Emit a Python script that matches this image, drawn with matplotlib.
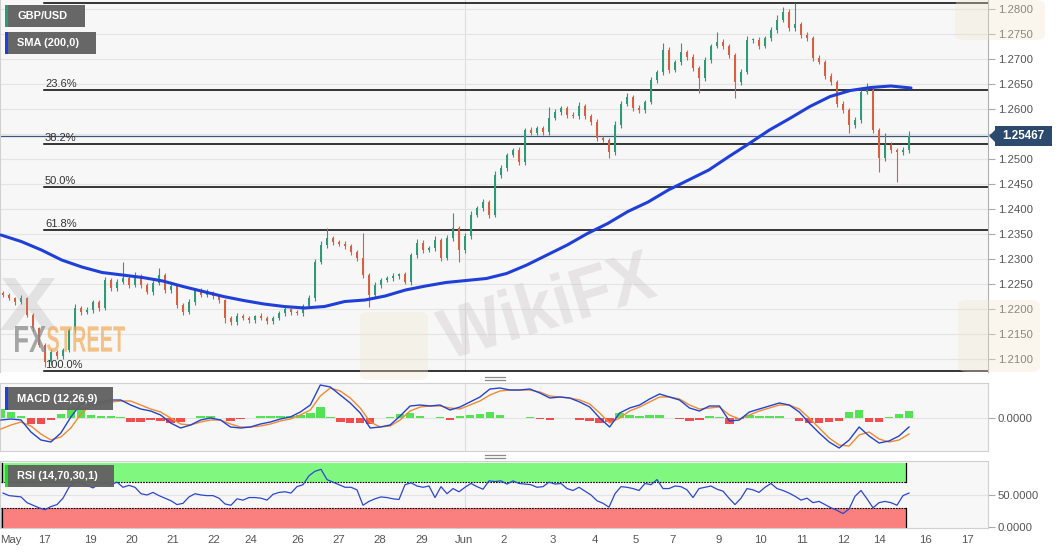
import numpy as np
import matplotlib
matplotlib.use('Agg')
import matplotlib.pyplot as plt
from matplotlib.patches import Rectangle, Polygon, PathPatch, FancyBboxPatch
from matplotlib.lines import Line2D
from matplotlib.textpath import TextPath
from matplotlib.font_manager import FontProperties
from matplotlib.transforms import Affine2D

plt.rcParams['font.family'] = ['Liberation Sans', 'DejaVu Sans']

# ---------------- data ----------------
first_open = 1.2232
closes = [
    1.2228, 1.2222, 1.2214, 1.2222, 1.2188, 1.2162, 1.2128, 1.2094, 1.2114, 1.2106,
    1.2118, 1.2158, 1.2202, 1.2194, 1.2198, 1.2214, 1.2202, 1.2258, 1.2242, 1.2254,
    1.2262, 1.2248, 1.2266, 1.2248, 1.2234, 1.2252, 1.2268, 1.2238, 1.2246, 1.2208,
    1.2194, 1.2214, 1.2238, 1.2228, 1.2234, 1.2226, 1.2218, 1.2182, 1.2174, 1.2186,
    1.2182, 1.2178, 1.2186, 1.2182, 1.2176, 1.2182, 1.2192, 1.2200, 1.2194, 1.2192,
    1.2206, 1.2222, 1.2294, 1.2328,
    1.2342, 1.2334, 1.2330, 1.2326, 1.2314, 1.2302, 1.2268, 1.2228, 1.2248, 1.2258,
    1.2262, 1.2266, 1.2270, 1.2254, 1.2308, 1.2332, 1.2318, 1.2322, 1.2338, 1.2302,
    1.2342, 1.2362, 1.2318, 1.2346, 1.2388, 1.2402, 1.2414, 1.2388, 1.2468, 1.2482,
    1.2508, 1.2518, 1.2494, 1.2558, 1.2552, 1.2562, 1.2554, 1.2582, 1.2594, 1.2602,
    1.2588, 1.2586, 1.2606, 1.2586, 1.2574, 1.2542, 1.2538, 1.2514, 1.2568, 1.2610,
    1.2624, 1.2602, 1.2598, 1.2614, 1.2658, 1.2674, 1.2718, 1.2678, 1.2694, 1.2714,
    1.2704, 1.2682, 1.2662, 1.2698, 1.2726, 1.2734, 1.2726, 1.2708, 1.2654, 1.2674,
    1.2738, 1.2738, 1.2726, 1.2742, 1.2758, 1.2778, 1.2794, 1.2762, 1.2770, 1.2748,
    1.2742, 1.2702, 1.2694, 1.2666, 1.2654, 1.2610, 1.2598, 1.2568, 1.2578, 1.2634,
    1.2638, 1.2558, 1.2502, 1.2528, 1.2518, 1.2514, 1.2518, 1.25467,
]
wick_up = [
    4, 5, 3, 6, 3, 4, 3, 4, 6, 5,
    4, 5, 8, 4, 6, 5, 4, 6, 5, 7,
    32, 5, 8, 4, 5, 6, 14, 4, 6, 3,
    4, 6, 5, 4, 6, 3, 4, 3, 5, 6,
    4, 5, 3, 6, 4, 5, 4, 6, 3, 4,
    5, 6, 6, 8, 20, 5, 4, 6, 4, 5,
    50, 4, 6, 5, 4, 6, 3, 5, 4, 8,
    6, 4, 8, 5, 6, 30, 4, 6, 8, 5,
    6, 4, 8, 6, 5, 4, 6, 5, 6, 5,
    4, 22, 6, 5, 4, 6, 8, 5, 4, 6,
    5, 4, 8, 6, 8, 5, 6, 4, 6, 5,
    14, 6, 5, 18, 5, 6, 4, 6, 5, 20,
    6, 5, 4, 6, 8, 5, 6, 5, 6, 10,
    10, 6, 42, 5, 6, 4, 6, 5, 6, 5,
    6, 5, 6, 4, 14, 6, 5, 24, 6, 5,
    6, 10,
]
wick_dn = [
    5, 4, 6, 4, 5, 6, 4, 10, 6, 5,
    6, 4, 5, 6, 4, 5, 6, 4, 6, 5,
    4, 6, 5, 6, 4, 5, 4, 6, 5, 6,
    5, 4, 6, 5, 4, 6, 5, 10, 6, 5,
    4, 6, 5, 4, 6, 5, 4, 5, 6, 4,
    5, 4, 5, 4, 5, 6, 4, 5, 6, 5,
    6, 24, 5, 6, 4, 5, 6, 4, 5, 6,
    5, 4, 6, 5, 4, 5, 24, 6, 5, 4,
    6, 5, 4, 6, 5, 4, 6, 5, 4, 5,
    6, 5, 4, 6, 5, 4, 6, 5, 6, 5,
    4, 12, 5, 6, 4, 5, 6, 5, 4, 6,
    5, 6, 4, 5, 6, 5, 30, 5, 6, 4,
    5, 6, 32, 5, 4, 6, 5, 4, 6, 5,
    4, 6, 5, 6, 5, 6, 4, 6, 5, 6,
    5, 16, 6, 5, 4, 6, 28, 5, 6, 60,
    5, 6,
]
sma200 = [
    1.2348, 1.2335, 1.2318, 1.2298, 1.2284, 1.2273, 1.2268, 1.2263, 1.2256, 1.2245,
    1.2235, 1.2225, 1.2217, 1.2210, 1.2205, 1.2202, 1.2205, 1.2215, 1.2218, 1.2226,
    1.2238, 1.2246, 1.2253, 1.2257, 1.2261, 1.2271, 1.2288, 1.2308, 1.2328, 1.2351,
    1.2371, 1.2395, 1.2414, 1.2438, 1.2458, 1.2478, 1.2505, 1.2531, 1.2558, 1.2581,
    1.2605, 1.2625, 1.2637, 1.2643, 1.2646, 1.2642,
]
macd_line = [
    -0.0002, -0.0001, -0.0002, -0.0014, -0.0022, -0.0024, -0.0015, 0.0001, 0.0014, 0.0016,
    0.0016, 0.0018, 0.0018, 0.0013, 0.0009, 0.0007, 0.0003, -0.0005, -0.0010, -0.0007,
    -0.0002, 0.0000, -0.0002, -0.0009, -0.0010, -0.0009, -0.0006, -0.0004, -0.0001, 0.0001,
    0.0006, 0.0013, 0.0033, 0.0031, 0.0023, 0.0015, 0.0005, -0.0010, -0.0009, -0.0007,
    0.0002, 0.0012, 0.0013, 0.0012, 0.0013, 0.0008, 0.0011, 0.0016, 0.0021, 0.0029,
    0.0030, 0.0028, 0.0028, 0.0029, 0.0025, 0.0020, 0.0021, 0.0020, 0.0016, 0.0011,
    0.0000, -0.0009, 0.0005, 0.0010, 0.0013, 0.0019, 0.0024, 0.0021, 0.0018, 0.0010,
    0.0007, 0.0012, 0.0012, -0.0003, -0.0002, 0.0006, 0.0009, 0.0012, 0.0015, 0.0013,
    0.0006, -0.0005, -0.0015, -0.0024, -0.0030, -0.0022, -0.0009, -0.0018, -0.0025, -0.0023,
    -0.0018, -0.0009,
]
signal_line = [
    -0.0011, -0.0007, -0.0004, -0.0008, -0.0016, -0.0022, -0.0019, -0.0010, 0.0004, 0.0013,
    0.0014, 0.0016, 0.0017, 0.0017, 0.0013, 0.0009, 0.0006, 0.0000, -0.0006, -0.0007,
    -0.0004, -0.0002, -0.0002, -0.0006, -0.0009, -0.0009, -0.0008, -0.0006, -0.0003, -0.0001,
    0.0003, 0.0008, 0.0022, 0.0030, 0.0027, 0.0020, 0.0010, -0.0004, -0.0009, -0.0008,
    -0.0002, 0.0007, 0.0011, 0.0012, 0.0012, 0.0010, 0.0009, 0.0013, 0.0017, 0.0023,
    0.0027, 0.0028, 0.0028, 0.0028, 0.0026, 0.0022, 0.0021, 0.0020, 0.0018, 0.0014,
    0.0005, -0.0005, 0.0000, 0.0007, 0.0011, 0.0016, 0.0021, 0.0021, 0.0019, 0.0013,
    0.0009, 0.0010, 0.0011, 0.0003, -0.0001, 0.0003, 0.0007, 0.0010, 0.0013, 0.0013,
    0.0009, 0.0000, -0.0010, -0.0020, -0.0027, -0.0028, -0.0017, -0.0014, -0.0021, -0.0024,
    -0.0022, -0.0016,
]
rsi = [
    53, 49, 48, 47, 38, 34, 30, 27, 32, 35,
    45, 62, 70, 69, 65, 61, 67, 68, 66, 70,
    62, 65, 62, 52, 50, 54, 49, 45, 41, 35,
    37, 47, 52, 50, 49, 49, 45, 36, 34, 44,
    42, 46, 46, 45, 42, 51, 54, 55, 53, 63,
    66, 80, 87, 90, 74, 70, 66, 62, 62, 58,
    34, 40, 44, 47, 46, 44, 43, 66, 69, 64,
    62, 64, 46, 63, 52, 60, 55, 62, 68, 63,
    59, 72, 71, 72, 67, 72, 68, 67, 66, 62,
    63, 70, 67, 68, 60, 57, 62, 56, 50, 41,
    37, 31, 52, 63, 62, 60, 57, 68, 66, 74,
    60, 60, 64, 63, 58, 46, 60, 62, 64, 59,
    56, 45, 35, 45, 60, 58, 54, 62, 68, 60,
    57, 53, 48, 42, 45, 38, 40, 35, 30, 26,
    21, 28, 48, 57, 44, 30, 38, 40, 38, 34,
    49, 53,
]
fib_high = 1.2812
fib_low = 1.2076
fib_levels = [0.0, 0.236, 0.382, 0.5, 0.618, 1.0]
fib_labels = ['0.0%', '23.6%', '38.2%', '50.0%', '61.8%', '100.0%']
last_price = 1.25467
price_ticks = [1.2100, 1.2150, 1.2200, 1.2250, 1.2300, 1.2350, 1.2400, 1.2450,
               1.2500, 1.2550, 1.2600, 1.2650, 1.2700, 1.2750, 1.2800]
date_labels = ['May', '17', '19', '20', '21', '22', '24', '26', '27', '28', '29',
               'Jun', '2', '3', '4', '5', '7', '9', '10', '11', '12', '14', '16', '17']
rsi_upper, rsi_lower = 70, 30

# ---------------- layout ----------------
W, H = 1060, 555
PLOT_W = 988          # px width of plot areas
BAR_STEP = 6          # px between candles
BAR_X0 = 2
date_pos = [10, 43, 89, 131, 172, 213, 250, 297, 338, 379, 421, 463, 503, 552,
            594, 635, 672, 718, 759, 801, 842, 878, 924, 966]
jun_x = 464
FACE = '#f7f7f7'
GRID = '#e4e4e4'

fig = plt.figure(figsize=(W / 100, H / 100), dpi=100)
fig.patch.set_facecolor('white')


def fy(y):
    return 1 - y / H


ax = fig.add_axes([0.0, fy(372), PLOT_W / W, 372 / H])
axm = fig.add_axes([0.0, fy(451), PLOT_W / W, 68 / H])
axr = fig.add_axes([0.0, fy(528), PLOT_W / W, 67 / H])

for a in (ax, axm, axr):
    a.set_facecolor(FACE)
    a.set_xlim(-1, PLOT_W - 1)
    for s in a.spines.values():
        s.set_color('#d0d0d0')
        s.set_linewidth(0.8)
    a.tick_params(axis='x', length=0)
    a.yaxis.tick_right()
    a.tick_params(axis='y', direction='out', length=5, color='#aaaaaa', width=0.8,
                  labelsize=8.2, labelcolor='#555555', pad=2)
    a.axvline(jun_x, color='#dddddd', lw=0.8, zorder=0.5)

# ---------- main panel ----------
n = len(closes)
x = np.arange(n) * BAR_STEP + BAR_X0
opens = np.array([first_open] + closes[:-1])
cl = np.array(closes)
hi = np.maximum(opens, cl) + np.array(wick_up) * 1e-4
lo = np.minimum(opens, cl) - np.array(wick_dn) * 1e-4
up = cl >= opens
cols = np.where(up, '#2e9a78', '#d8603f')

ax.set_ylim(1.2074, 1.2818)
ax.set_yticks(price_ticks)
# the label next to the last-price tag is hidden by the tag in the original
ax.set_yticklabels(['' if abs(p - last_price) < 0.0012 else f'{p:.4f}' for p in price_ticks])
ax.set_xticks([])
ax.grid(axis='y', color=GRID, lw=0.8, zorder=0)
ax.set_axisbelow(True)
ax.spines['top'].set_visible(False)
ax.spines['bottom'].set_visible(False)
ax.spines['right'].set_color('#b0b0b0')

ax.vlines(x, lo, hi, colors=cols, lw=0.8, zorder=3)
body_h = np.maximum(np.abs(cl - opens), 0.00012)
ax.bar(x, body_h, bottom=np.minimum(opens, cl), width=2.6, color=cols, lw=0, zorder=3)

sma_x = np.linspace(0, 910, len(sma200))
ax.plot(sma_x, sma200, color='#1f3fd8', lw=2.2, zorder=4, solid_capstyle='round')

for lvl, lab in zip(fib_levels, fib_labels):
    p = fib_high - lvl * (fib_high - fib_low)
    ax.plot([43, PLOT_W], [p, p], color='black', lw=1.1, zorder=2)
    ax.text(44, p + 0.0002, lab, fontsize=8, color='#333333', va='bottom', ha='left',
            zorder=5, clip_on=True)

ax.axhline(last_price, color='#3b5878', lw=0.9, zorder=2)

# ---------- MACD panel ----------
mx = np.linspace(0, 908, len(macd_line))
macd_a = np.array(macd_line)
sig_a = np.array(signal_line)
hist = macd_a - sig_a
axm.set_ylim(-0.0033, 0.0035)
axm.set_yticks([0.0])
axm.set_yticklabels(['0.0000'])
axm.set_xticks([])
axm.axhline(0, color=GRID, lw=0.8, zorder=0.5)
axm.bar(mx, hist, width=8.5, color=np.where(hist >= 0, '#44e044', '#f03c3c'), lw=0,
        alpha=0.9, zorder=2)
axm.plot(mx, sig_a, color='#f28a30', lw=1.0, zorder=3)
axm.plot(mx, macd_a, color='#2343d0', lw=1.0, zorder=4)

# ---------- RSI panel ----------
axr.set_ylim(-1.5, 103)
axr.set_yticks([0, 50])
axr.set_yticklabels(['0.0000', '50.0000'])
axr.axhline(50, color=GRID, lw=0.8, zorder=0.5)
band_end = 905
axr.add_patch(Rectangle((0, rsi_upper), band_end, 100 - rsi_upper, facecolor='#80f880',
                        edgecolor='none', zorder=1))
axr.add_patch(Rectangle((0, -1.5), band_end, rsi_lower + 1.5, facecolor='#fa8080',
                        edgecolor='none', zorder=1))
axr.plot([0, band_end], [rsi_upper, rsi_upper], color='black', lw=0.8, ls=(0, (1.5, 1)), zorder=2)
axr.plot([0, band_end], [rsi_lower, rsi_lower], color='black', lw=0.8, ls=(0, (1.5, 1)), zorder=2)
axr.plot([band_end, band_end], [rsi_upper, 100], color='black', lw=0.9, zorder=2)
axr.plot([band_end, band_end], [-1.5, rsi_lower], color='black', lw=0.9, zorder=2)
axr.plot([1, 1], [rsi_upper, 100], color='black', lw=0.9, zorder=2)
axr.plot([1, 1], [-1.5, rsi_lower], color='black', lw=0.9, zorder=2)
rx = np.arange(len(rsi)) * BAR_STEP + BAR_X0
axr.plot(rx, rsi, color='#2c47cf', lw=0.9, zorder=3)
axr.set_xticks(date_pos)
axr.set_xticklabels(date_labels)
axr.tick_params(axis='x', length=0, pad=5, labelsize=8.2, labelcolor='#555555')

# ---------- overlays (figure pixel coords) ----------
def frect(x0, y0, x1, y1, color, z=5, alpha=1.0):
    fig.add_artist(Rectangle((x0 / W, fy(y1)), (x1 - x0) / W, (y1 - y0) / H,
                             transform=fig.transFigure, facecolor=color, edgecolor='none',
                             zorder=z, alpha=alpha))


def legend_box(x0, y0, x1, y1, stripe, label):
    frect(x0, y0, x1, y1, '#616161', z=6, alpha=0.96)
    frect(x0, y0, x0 + 2.5, y1, stripe, z=7)
    fig.text((x0 + 12) / W, fy((y0 + y1) / 2), label, color='white', fontsize=7.9,
             fontweight='bold', va='center', ha='left', zorder=8)


legend_box(5, 5, 85, 27, '#2e9a78', 'GBP/USD')
legend_box(5, 32, 96, 54, '#1f3fe0', 'SMA (200,0)')
legend_box(5, 387, 113, 410, '#1f3fe0', 'MACD (12,26,9)')
legend_box(5, 465, 114, 487, '#22dd22', 'RSI (14,70,30,1)')

# separators
for yy in (378, 456):
    for dy in (-1.5, 1.5):
        fig.add_artist(Line2D([485 / W, 505 / W], [fy(yy + dy), fy(yy + dy)],
                              transform=fig.transFigure, color='#8a8a8a', lw=0.9))

# price tag
tag = [(989, 136), (995, 130), (995, 126), (1052, 126), (1052, 146), (995, 146), (995, 142)]
fig.add_artist(Polygon([(px / W, fy(py)) for px, py in tag], closed=True,
                       transform=fig.transFigure, facecolor='#2c4a6e', edgecolor='none', zorder=6))
fig.text(1023 / W, fy(136), f'{last_price:.5f}', color='white', fontsize=8.4,
         fontweight='bold', va='center', ha='center', zorder=7)


# watermarks
def wm_text(s, x0, ybase, width, height, color, alpha, rot=0.0, z=3):
    fp = FontProperties(family='Liberation Sans', weight='bold')
    tp = TextPath((0, 0), s, size=1, prop=fp)
    ext = tp.get_extents()
    tr = (Affine2D().translate(-ext.x0, -ext.y0)
          .scale(width / ext.width, height / ext.height)
          .rotate_deg(rot)
          .translate(x0, H - ybase)
          .scale(1 / W, 1 / H) + fig.transFigure)
    fig.add_artist(PathPatch(tp, transform=tr, facecolor=color, edgecolor='none',
                             alpha=alpha, zorder=z))


# pale emblem squares of the WikiFX watermark
for (ex0, ey0, ex1, ey1) in [(360, 312, 428, 380), (955, 0, 1045, 40), (958, 300, 1040, 372)]:
    fig.add_artist(FancyBboxPatch((ex0 / W, fy(ey1)), (ex1 - ex0) / W, (ey1 - ey0) / H,
                                  boxstyle='round,pad=0,rounding_size=0.01',
                                  transform=fig.transFigure, facecolor='#f1e6cc',
                                  edgecolor='none', alpha=0.35, zorder=2.5))

wm_text('X', 0, 330, 57, 52, '#9a9a9a', 0.22)
wm_text('FX', 15, 352, 31, 26, '#8a8a8a', 0.75)
wm_text('STREET', 47, 352, 78, 26, '#f2aa55', 0.7)
wm_text('WikiFX', 448, 360, 220, 52, '#c4bebe', 0.32, rot=17)

fig.savefig('out.png', dpi=100, facecolor='white')
